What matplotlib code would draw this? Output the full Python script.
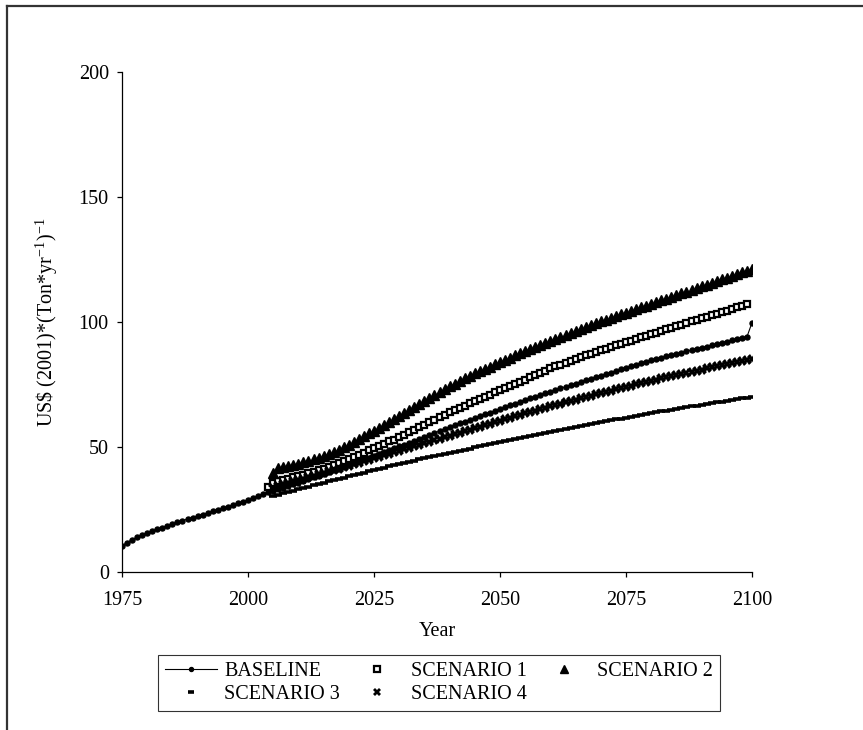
import numpy as np
import matplotlib.pyplot as plt
from matplotlib.lines import Line2D

plt.rcParams['font.family'] = ['Liberation Serif', 'DejaVu Serif']

# Datos (US$ 2001 por tonelada y ano)
years_base = np.arange(1975, 2101)
baseline = [
    10.5, 11.8, 12.9, 13.9, 14.8, 15.6, 16.4, 17.1, 17.8, 18.5,
    19.2, 19.9, 20.5, 21.2, 21.8, 22.4, 23.0, 23.6, 24.3, 24.9,
    25.5, 26.2, 26.8, 27.5, 28.1, 28.8, 29.6, 30.4, 31.2, 31.9,
    32.5, 33.2, 33.8, 34.5, 35.2, 35.8, 36.5, 37.2, 37.9, 38.6,
    39.3, 40.0, 40.7, 41.4, 42.2, 42.9, 43.6, 44.3, 45.1, 45.8,
    46.5, 47.3, 48.0, 48.8, 49.5, 50.3, 51.0, 51.8, 52.6, 53.3,
    54.1, 54.9, 55.6, 56.4, 57.2, 57.9, 58.7, 59.5, 60.2, 60.9,
    61.6, 62.4, 63.1, 63.8, 64.5, 65.2, 65.9, 66.7, 67.4, 68.1,
    68.8, 69.5, 70.1, 70.8, 71.5, 72.1, 72.8, 73.5, 74.1, 74.8,
    75.4, 76.1, 76.7, 77.3, 78.0, 78.6, 79.2, 79.8, 80.5, 81.1,
    81.7, 82.3, 82.9, 83.6, 84.2, 84.8, 85.3, 85.8, 86.3, 86.8,
    87.3, 87.8, 88.3, 88.8, 89.3, 89.8, 90.2, 90.7, 91.2, 91.7,
    92.2, 92.7, 93.1, 93.6, 94.1, 99.7,
]

years_s1 = np.arange(2004, 2100)
scenario1 = [
    34.1, 35.6, 36.5, 36.9, 37.4, 37.9, 38.4, 38.9, 39.5, 40.1,
    40.7, 41.4, 42.1, 42.8, 43.6, 44.4, 45.2, 46.0, 46.9, 47.8,
    48.7, 49.6, 50.5, 51.4, 52.3, 53.0, 54.0, 55.0, 56.0, 57.0,
    58.0, 59.0, 60.0, 61.0, 62.0, 62.9, 63.9, 64.8, 65.7, 66.6,
    67.5, 68.4, 69.3, 70.2, 71.0, 71.9, 72.8, 73.6, 74.5, 75.3,
    76.1, 77.0, 77.9, 78.8, 79.7, 80.6, 81.5, 82.3, 83.0, 83.8,
    84.6, 85.3, 86.1, 86.8, 87.4, 88.1, 88.7, 89.4, 90.0, 90.7,
    91.3, 92.0, 92.6, 93.3, 93.9, 94.6, 95.2, 95.8, 96.5, 97.1,
    97.7, 98.4, 99.0, 99.6, 100.3, 100.9, 101.5, 102.1, 102.8, 103.4,
    104.0, 104.6, 105.3, 105.9, 106.5, 107.1,
]

years_sc = np.arange(2005, 2101)
scenario2 = [
    39.5, 41.5, 41.9, 42.3, 42.8, 43.3, 43.9, 44.5, 45.1, 45.8,
    46.5, 47.2, 48.1, 49.0, 50.0, 51.0, 52.1, 53.2, 54.3, 55.5,
    56.6, 57.8, 59.0, 60.2, 61.4, 62.6, 63.8, 65.0, 66.2, 67.4,
    68.6, 69.7, 70.9, 72.0, 73.2, 74.3, 75.4, 76.5, 77.5, 78.5,
    79.5, 80.4, 81.3, 82.2, 83.1, 84.0, 84.9, 85.8, 86.7, 87.5,
    88.4, 89.2, 90.1, 90.9, 91.8, 92.6, 93.4, 94.2, 95.0, 95.8,
    96.6, 97.3, 98.1, 98.8, 99.6, 100.3, 101.0, 101.7, 102.4, 103.1,
    103.8, 104.5, 105.2, 105.9, 106.6, 107.3, 108.0, 108.7, 109.4, 110.1,
    110.8, 111.5, 112.2, 112.9, 113.6, 114.3, 115.0, 115.7, 116.4, 117.1,
    117.8, 118.5, 119.2, 119.9, 120.6, 121.3,
]
scenario3 = [
    30.5, 31.0, 31.5, 32.1, 32.6, 33.2, 33.7, 34.2, 34.7, 35.2,
    35.8, 36.3, 36.8, 37.3, 37.8, 38.3, 38.8, 39.3, 39.8, 40.3,
    40.8, 41.3, 41.8, 42.3, 42.8, 43.3, 43.7, 44.2, 44.6, 45.1,
    45.5, 45.9, 46.4, 46.8, 47.2, 47.7, 48.1, 48.5, 49.0, 49.4,
    49.9, 50.3, 50.7, 51.2, 51.6, 52.0, 52.5, 52.9, 53.4, 53.8,
    54.2, 54.6, 55.0, 55.4, 55.8, 56.2, 56.6, 57.0, 57.3, 57.7,
    58.1, 58.5, 58.9, 59.2, 59.6, 60.0, 60.3, 60.7, 61.1, 61.4,
    61.8, 62.2, 62.5, 62.9, 63.2, 63.6, 63.9, 64.3, 64.6, 64.9,
    65.3, 65.6, 65.9, 66.3, 66.6, 66.9, 67.3, 67.6, 67.9, 68.2,
    68.6, 68.9, 69.2, 69.5, 69.8, 70.1,
]
scenario4 = [
    33.5, 34.6, 35.1, 35.7, 36.3, 36.8, 37.4, 38.0, 38.6, 39.1,
    39.7, 40.3, 40.9, 41.4, 42.0, 42.6, 43.2, 43.8, 44.3, 44.9,
    45.5, 46.1, 46.7, 47.3, 47.9, 48.5, 49.1, 49.7, 50.3, 50.9,
    51.5, 52.1, 52.7, 53.3, 53.9, 54.5, 55.1, 55.7, 56.3, 56.9,
    57.5, 58.1, 58.7, 59.3, 59.9, 60.5, 61.1, 61.7, 62.3, 62.9,
    63.5, 64.0, 64.6, 65.2, 65.7, 66.3, 66.8, 67.4, 67.9, 68.5,
    69.0, 69.5, 70.1, 70.6, 71.1, 71.6, 72.1, 72.6, 73.1, 73.6,
    74.1, 74.6, 75.1, 75.6, 76.1, 76.6, 77.0, 77.5, 77.9, 78.4,
    78.8, 79.3, 79.7, 80.2, 80.6, 81.0, 81.5, 81.9, 82.3, 82.7,
    83.2, 83.6, 84.0, 84.4, 84.8, 85.2,
]

x_ticks = [1975, 2000, 2025, 2050, 2075, 2100]
y_ticks = [0, 50, 100, 150, 200]

W, H = 863, 730
fig = plt.figure(figsize=(W / 100, H / 100), dpi=100)
ax = fig.add_axes([122 / W, 1 - 572 / H, 630 / W, 500 / H])

l0, = ax.plot(years_base, baseline, color='black', lw=0.8, marker='o', ms=3.6,
              label='BASELINE')
l1, = ax.plot(years_s1, scenario1, ls='none', marker='s', ms=4.8, mfc='white',
              mec='black', mew=1.6, label='SCENARIO 1')
l2, = ax.plot(years_sc, scenario2, ls='none', marker='^', ms=7, color='black',
              label='SCENARIO 2')
l3, = ax.plot(years_sc, scenario3, ls='none', marker='_', ms=5.5, mew=2.6,
              color='black', label='SCENARIO 3')
l4, = ax.plot(years_sc, scenario4, ls='none', marker='X', ms=6.5, color='black',
              mew=0, label='SCENARIO 4')

ax.set_xlim(1975, 2100)
ax.set_ylim(0, 200)
ax.set_xticks(x_ticks)
ax.set_yticks(y_ticks)
ax.spines['top'].set_visible(False)
ax.spines['right'].set_visible(False)
for s in ('left', 'bottom'):
    ax.spines[s].set_linewidth(0.9)
ax.tick_params(axis='both', direction='out', length=3.5, width=0.9,
               labelsize=14.5, colors='black')
ax.tick_params(axis='x', pad=10)
ax.tick_params(axis='y', pad=6)

ax.set_xlabel('Year', fontsize=14.5, labelpad=9)
ax.set_ylabel('US\\$ (2001)*(Ton*yr$^{\\mathregular{-1}}$)$^{\\mathregular{-1}}$',
              fontsize=14.5)
ax.yaxis.set_label_coords(-0.098, 0.5)

# orden para que la leyenda se llene por filas
handles = [l0, l3, l1, l4, l2]
leg = ax.legend(handles, [h.get_label() for h in handles], ncol=3,
                loc='upper left', bbox_to_anchor=(158 / W, 1 - 655 / H),
                bbox_transform=fig.transFigure, frameon=True, fancybox=False,
                edgecolor='black', fontsize=14.5, handlelength=2.6,
                handletextpad=0.35, columnspacing=0.55, borderpad=0.35,
                labelspacing=0.2, borderaxespad=0, markerscale=0.8)
leg.get_frame().set_linewidth(0.8)

# borde del area del grafico (recortado a derecha y abajo)
fig.add_artist(Line2D([7 / W, 1], [1 - 5.5 / H, 1 - 5.5 / H],
                      transform=fig.transFigure, color='#333333', lw=1.6))
fig.add_artist(Line2D([7 / W, 7 / W], [0, 1 - 5.5 / H],
                      transform=fig.transFigure, color='#333333', lw=1.6))

fig.savefig('out.png', dpi=100)
